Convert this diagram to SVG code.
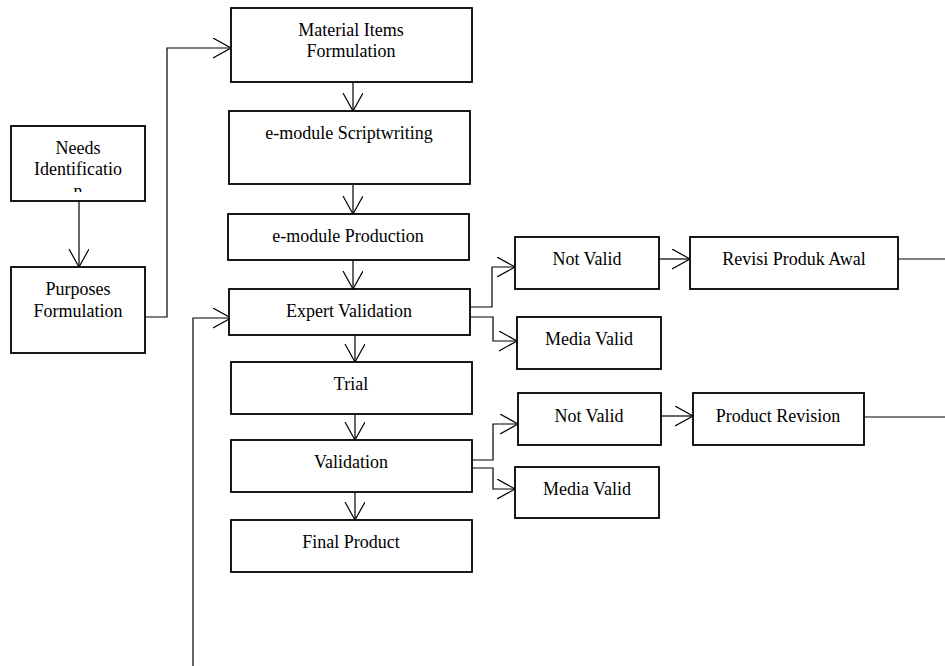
<svg xmlns="http://www.w3.org/2000/svg" width="945" height="666" viewBox="0 0 945 666">
<style>
.box{fill:#fff;stroke:#000;stroke-width:1.8}
.t{font-family:'Liberation Serif','Times New Roman',serif;font-size:18px;fill:#000;text-anchor:middle}
.c{fill:none;stroke:#000;stroke-width:1.2}
</style>
<defs>
<marker id="ah" markerWidth="20" markerHeight="22" refX="18" refY="10" orient="auto" markerUnits="userSpaceOnUse">
<path d="M0,0 L18,10 L0,20" fill="none" stroke="#000" stroke-width="1.2"/>
</marker>
<clipPath id="clipNeeds"><rect x="11" y="126" width="134" height="66"/></clipPath>
</defs>
<rect width="945" height="666" fill="#fff"/>
<g id="connectors">
<path class="c" d="M79,201 V267" marker-end="url(#ah)"/>
<path class="c" d="M145,317 H167 V48 H231" marker-end="url(#ah)"/>
<path class="c" d="M353,82 V111" marker-end="url(#ah)"/>
<path class="c" d="M353,185 V214" marker-end="url(#ah)"/>
<path class="c" d="M353,260 V289" marker-end="url(#ah)"/>
<path class="c" d="M355,335 V362" marker-end="url(#ah)"/>
<path class="c" d="M355,414 V440" marker-end="url(#ah)"/>
<path class="c" d="M355,492 V520" marker-end="url(#ah)"/>
<path class="c" d="M193,666 V318 H231" marker-end="url(#ah)"/>
<path class="c" d="M470,307 H492 V267 H515" marker-end="url(#ah)"/>
<path class="c" d="M470,317 H493 V341 H517" marker-end="url(#ah)"/>
<path class="c" d="M659,259 H690" marker-end="url(#ah)"/>
<path class="c" d="M898,259 H945"/>
<path class="c" d="M472,460 H493 V424 H518" marker-end="url(#ah)"/>
<path class="c" d="M472,468 H493 V489 H515" marker-end="url(#ah)"/>
<path class="c" d="M661,416 H693" marker-end="url(#ah)"/>
<path class="c" d="M864,417 H945"/>
</g>
<g id="needs">
<rect class="box" x="11" y="126" width="134" height="75"/>
<g clip-path="url(#clipNeeds)">
<text class="t" x="78" y="154">Needs</text>
<text class="t" x="78" y="175">Identificatio</text>
<text class="t" x="78" y="197">n</text>
</g>
</g>
<g id="purposes">
<rect class="box" x="11" y="267" width="134" height="86"/>
<text class="t" x="78" y="295">Purposes</text>
<text class="t" x="78" y="317">Formulation</text>
</g>
<g id="material">
<rect class="box" x="231" y="8" width="241" height="74"/>
<text class="t" x="351" y="36">Material Items</text>
<text class="t" x="351" y="57">Formulation</text>
</g>
<g id="script">
<rect class="box" x="229" y="111" width="241" height="73"/>
<text class="t" x="349" y="139">e-module Scriptwriting</text>
</g>
<g id="production">
<rect class="box" x="228" y="214" width="241" height="46"/>
<text class="t" x="348" y="242">e-module Production</text>
</g>
<g id="expert">
<rect class="box" x="229" y="289" width="241" height="46"/>
<text class="t" x="349" y="317">Expert Validation</text>
</g>
<g id="trial">
<rect class="box" x="231" y="362" width="241" height="52"/>
<text class="t" x="351" y="390">Trial</text>
</g>
<g id="validation">
<rect class="box" x="231" y="440" width="241" height="52"/>
<text class="t" x="351" y="468">Validation</text>
</g>
<g id="final">
<rect class="box" x="231" y="520" width="241" height="52"/>
<text class="t" x="351" y="548">Final Product</text>
</g>
<g id="notvalid1">
<rect class="box" x="515" y="237" width="144" height="52"/>
<text class="t" x="587" y="265">Not Valid</text>
</g>
<g id="revisi">
<rect class="box" x="690" y="237" width="208" height="52"/>
<text class="t" x="794" y="265">Revisi Produk Awal</text>
</g>
<g id="mediavalid1">
<rect class="box" x="517" y="317" width="144" height="52"/>
<text class="t" x="589" y="345">Media Valid</text>
</g>
<g id="notvalid2">
<rect class="box" x="518" y="393" width="143" height="52"/>
<text class="t" x="589" y="422">Not Valid</text>
</g>
<g id="productrevision">
<rect class="box" x="693" y="393" width="171" height="52"/>
<text class="t" x="778" y="422">Product Revision</text>
</g>
<g id="mediavalid2">
<rect class="box" x="515" y="467" width="144" height="51"/>
<text class="t" x="587" y="495">Media Valid</text>
</g>
</svg>
